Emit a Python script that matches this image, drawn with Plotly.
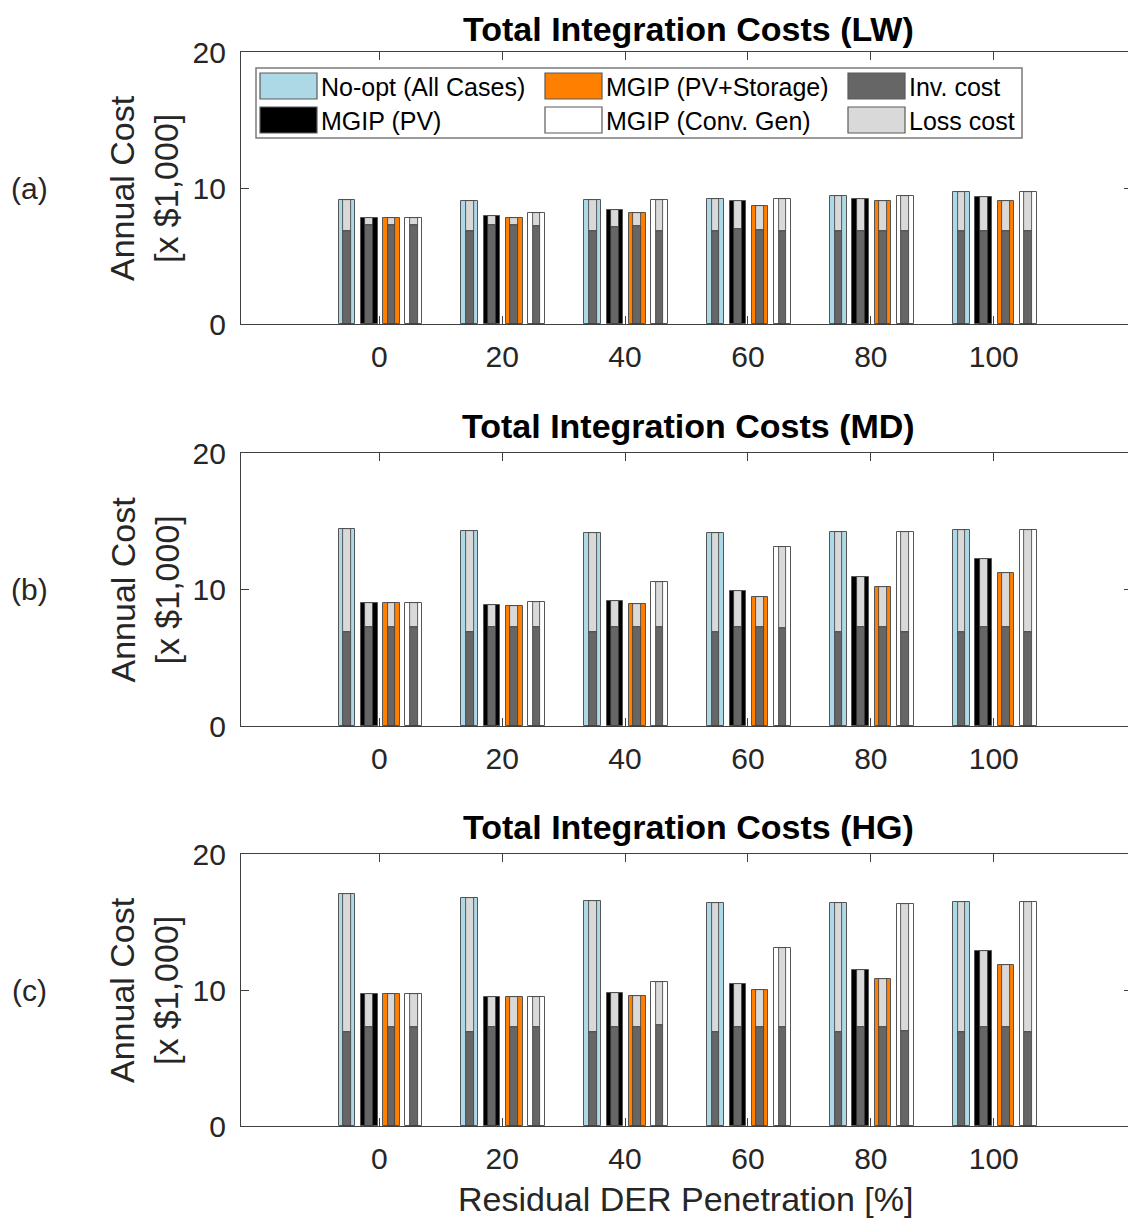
import plotly.graph_objects as go

# page has an 8px body margin; the figure is laid out in window pixels
OX, OY = 8, 8
FW, FH = 1128, 1211

# ---------------- data ----------------
penetration = [0, 20, 40, 60, 80, 100]
tick_labels = ["0", "20", "40", "60", "80", "100"]
case_names = ["No-opt (All Cases)", "MGIP (PV)", "MGIP (PV+Storage)", "MGIP (Conv. Gen)"]
cost_names = ["Inv. cost", "Loss cost"]
panel_titles = ["Total Integration Costs (LW)", "Total Integration Costs (MD)", "Total Integration Costs (HG)"]
panel_tags = ["(a)", "(b)", "(c)"]

# LW (totals and investment part)
lw_noopt_total = [9.09, 9.04, 9.09, 9.19, 9.43, 9.70]
lw_pv_total = [7.76, 7.91, 8.40, 9.07, 9.21, 9.34]
lw_pvs_total = [7.76, 7.77, 8.13, 8.70, 9.01, 9.07]
lw_conv_total = [7.76, 8.18, 9.09, 9.19, 9.43, 9.70]
lw_noopt_inv = [6.86, 6.86, 6.86, 6.86, 6.86, 6.86]
lw_pv_inv = [7.25, 7.25, 7.13, 6.98, 6.86, 6.86]
lw_pvs_inv = [7.25, 7.25, 7.23, 6.93, 6.86, 6.86]
lw_conv_inv = [7.25, 7.20, 6.86, 6.86, 6.86, 6.86]

# MD
md_noopt_total = [14.45, 14.26, 14.17, 14.14, 14.24, 14.36]
md_pv_total = [9.00, 8.90, 9.19, 9.90, 10.93, 12.23]
md_pvs_total = [9.00, 8.82, 8.97, 9.43, 10.20, 11.23]
md_conv_total = [9.00, 9.12, 10.57, 13.14, 14.24, 14.36]
md_noopt_inv = [6.89, 6.89, 6.89, 6.89, 6.89, 6.89]
md_pv_inv = [7.28, 7.28, 7.28, 7.28, 7.28, 7.28]
md_pvs_inv = [7.28, 7.28, 7.28, 7.28, 7.28, 7.28]
md_conv_inv = [7.28, 7.28, 7.28, 7.18, 6.89, 6.89]

# HG
hg_noopt_total = [17.08, 16.76, 16.54, 16.43, 16.40, 16.47]
hg_pv_total = [9.70, 9.51, 9.78, 10.44, 11.47, 12.85]
hg_pvs_total = [9.70, 9.46, 9.59, 10.03, 10.79, 11.82]
hg_conv_total = [9.70, 9.46, 10.59, 13.09, 16.35, 16.47]
hg_noopt_inv = [6.90, 6.90, 6.90, 6.90, 6.90, 6.90]
hg_pv_inv = [7.27, 7.27, 7.27, 7.27, 7.27, 7.27]
hg_pvs_inv = [7.27, 7.27, 7.27, 7.27, 7.27, 7.27]
hg_conv_inv = [7.27, 7.27, 7.43, 7.27, 6.96, 6.90]

panels = [
    ([lw_noopt_total, lw_pv_total, lw_pvs_total, lw_conv_total],
     [lw_noopt_inv, lw_pv_inv, lw_pvs_inv, lw_conv_inv]),
    ([md_noopt_total, md_pv_total, md_pvs_total, md_conv_total],
     [md_noopt_inv, md_pv_inv, md_pvs_inv, md_conv_inv]),
    ([hg_noopt_total, hg_pv_total, hg_pvs_total, hg_conv_total],
     [hg_noopt_inv, hg_pv_inv, hg_pvs_inv, hg_conv_inv]),
]

# ---------------- style ----------------
case_colors = ["#add8e6", "#000000", "#ff8000", "#ffffff"]
inv_color = "#666666"
loss_color = "#d9d9d9"
bar_offsets = [-5.26, -1.64, 1.98, 5.60]
outer_width = 2.72
inner_width = 1.25
FONT = "Arial, Liberation Sans, sans-serif"
TXT = "#262626"

# window-pixel layout of the three axes boxes
x_left_px, x_right_px = 241, 1132
panel_px = [(52, 324), (453, 726), (854, 1126)]


def px(x):
    return (x - OX) / FW


def py(y):
    return 1 - (y - OY) / FH


fig = go.Figure()

for i, (totals, invs) in enumerate(panels):
    xa = "x" if i == 0 else f"x{i+1}"
    ya = "y" if i == 0 else f"y{i+1}"
    for c in range(4):
        xs = [p + bar_offsets[c] for p in penetration]
        # outer coloured bar (case)
        fig.add_trace(go.Bar(
            x=xs, y=totals[c], width=outer_width, xaxis=xa, yaxis=ya,
            marker=dict(color=case_colors[c], line=dict(color="#555555", width=1)),
            showlegend=False, hoverinfo="skip"))
        # inner investment cost
        fig.add_trace(go.Bar(
            x=xs, y=invs[c], base=0, width=inner_width, xaxis=xa, yaxis=ya,
            marker=dict(color=inv_color, line=dict(color="#3a3a3a", width=0.8)),
            showlegend=False, hoverinfo="skip"))
        # inner loss cost stacked above
        loss = [t - v for t, v in zip(totals[c], invs[c])]
        fig.add_trace(go.Bar(
            x=xs, y=loss, base=invs[c], width=inner_width, xaxis=xa, yaxis=ya,
            marker=dict(color=loss_color, line=dict(color="#3a3a3a", width=0.8)),
            showlegend=False, hoverinfo="skip"))

layout = dict(
    width=FW, height=FH, barmode="overlay", bargap=0,
    paper_bgcolor="white", plot_bgcolor="white",
    margin=dict(l=0, r=0, t=0, b=0, autoexpand=False),
    font=dict(family=FONT, color=TXT),
    showlegend=False,
)

annotations = []
shapes = []
for i in range(3):
    top, bot = panel_px[i]
    sfx = "" if i == 0 else str(i + 1)
    layout["xaxis" + sfx] = dict(
        domain=[px(x_left_px), min(1.0, px(x_right_px))], anchor="y" + sfx,
        range=[-22.5, 122.5], tickvals=penetration, ticktext=tick_labels,
        ticks="inside", ticklen=8, tickcolor="#404040", tickwidth=1,
        showline=True, linecolor="#404040", linewidth=1.3, mirror="ticks",
        showgrid=False, zeroline=False, ticklabelstandoff=6, automargin=False,
        tickfont=dict(size=30, family=FONT, color=TXT))
    layout["yaxis" + sfx] = dict(
        domain=[py(bot), py(top)], anchor="x" + sfx,
        range=[0, 20], tickvals=[0, 10, 20],
        ticks="inside", ticklen=8, tickcolor="#404040", tickwidth=1,
        showline=True, linecolor="#404040", linewidth=1.3, mirror="ticks",
        showgrid=False, zeroline=False, ticklabelstandoff=8, automargin=False,
        tickfont=dict(size=30, family=FONT, color=TXT))
    mid = (top + bot) / 2
    annotations.append(dict(
        text=f"<b>{panel_titles[i]}</b>", x=px(688), y=py(max(top - 27, 29)),
        xref="paper", yref="paper", xanchor="center", yanchor="middle",
        showarrow=False, font=dict(size=34, family=FONT, color="#000000")))
    annotations.append(dict(
        text="Annual Cost<br>[x $1,000]", x=px(144), y=py(mid),
        xref="paper", yref="paper", xanchor="center", yanchor="middle",
        textangle=-90, showarrow=False,
        font=dict(size=34, family=FONT, color=TXT)))
    annotations.append(dict(
        text=panel_tags[i], x=px(29), y=py(mid),
        xref="paper", yref="paper", xanchor="center", yanchor="middle",
        showarrow=False, font=dict(size=30, family=FONT, color=TXT)))

annotations.append(dict(
    text="Residual DER Penetration [%]", x=px(685), y=py(1199),
    xref="paper", yref="paper", xanchor="center", yanchor="middle",
    showarrow=False, font=dict(size=34, family=FONT, color=TXT)))

# legend (drawn manually to mimic the 3x2 boxed legend)
legend_labels = [case_names[0], case_names[2], cost_names[0],
                 case_names[1], case_names[3], cost_names[1]]
legend_colors = [case_colors[0], case_colors[2], inv_color,
                 case_colors[1], case_colors[3], loss_color]
shapes.append(dict(type="rect", xref="paper", yref="paper",
                   x0=px(256), x1=px(1022), y0=py(138), y1=py(68),
                   line=dict(color="#7a7a7a", width=1.5), fillcolor="white"))
col_x = [260, 545, 848]
row_y = [86, 120]
for k in range(6):
    r, c = divmod(k, 3)
    x0 = col_x[c]
    yc = row_y[r]
    shapes.append(dict(type="rect", xref="paper", yref="paper",
                       x0=px(x0), x1=px(x0 + 57), y0=py(yc + 13), y1=py(yc - 13),
                       line=dict(color="#5a5a5a", width=1.2), fillcolor=legend_colors[k]))
    annotations.append(dict(
        text=legend_labels[k], x=px(x0 + 59), y=py(yc + 1),
        xref="paper", yref="paper", xanchor="left", yanchor="middle",
        showarrow=False, font=dict(size=25, family=FONT, color="#000000")))

layout["annotations"] = annotations
layout["shapes"] = shapes
fig.update_layout(**layout)

fig.write_html("out.html")
